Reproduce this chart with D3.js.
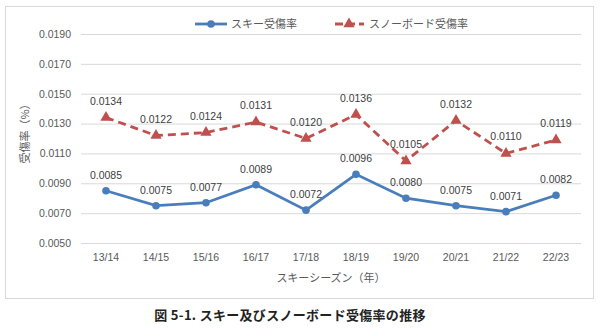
<!DOCTYPE html>
<html><head><meta charset="utf-8">
<script src="https://cdn.jsdelivr.net/npm/d3@7"></script>
<style>body{margin:0;background:#fff}svg{display:block;font-family:"Noto Sans CJK JP","Noto Sans",sans-serif}</style>
</head><body><div id="c"></div>
<script>
const seasons = ["13/14","14/15","15/16","16/17","17/18","18/19","19/20","20/21","21/22","22/23"];
const skiRate = [0.0085,0.0075,0.0077,0.0089,0.0072,0.0096,0.0080,0.0075,0.0071,0.0082];
const snowboardRate = [0.0134,0.0122,0.0124,0.0131,0.0120,0.0136,0.0105,0.0132,0.0110,0.0119];
const yTicks = [0.0050,0.0070,0.0090,0.0110,0.0130,0.0150,0.0170,0.0190];
const seriesNames = ["スキー受傷率","スノーボード受傷率"];

const W=600,H=329;
const svg=d3.select("#c").append("svg").attr("width",W).attr("height",H);
svg.append("rect").attr("x",5.5).attr("y",6.5).attr("width",588).attr("height",292).attr("fill","#fff").attr("stroke","#d9d9d9");

const x=d3.scaleBand().domain(seasons).range([81,581]);
const y=d3.scaleLinear().domain([0.005,0.019]).range([243,34]);

const gy=svg.append("g").attr("transform","translate(81,0)")
  .call(d3.axisLeft(y).tickValues(yTicks).tickSize(-500).tickFormat(d3.format(".4f")));
gy.select(".domain").remove();
gy.selectAll(".tick line").attr("stroke","#d9d9d9");
gy.selectAll(".tick text").attr("fill","#595959").attr("font-size",10.5).attr("x",-10).attr("font-family","Liberation Sans, Arial, sans-serif");

const gx=svg.append("g").attr("transform","translate(0,243)")
  .call(d3.axisBottom(x).tickSize(0));
gx.select(".domain").remove();
gx.selectAll(".tick text").attr("fill","#595959").attr("font-size",10.5).attr("dy","0.71em").attr("y",11).attr("font-family","Liberation Sans, Arial, sans-serif");

const cx=d=>x(d)+x.bandwidth()/2;
const line=d3.line().x((d,i)=>cx(seasons[i])).y(d=>y(d));

// snowboard
svg.append("path").datum(snowboardRate).attr("d",line).attr("fill","none")
  .attr("stroke","#C0504D").attr("stroke-width",2.8).attr("stroke-dasharray","8,5");
const tri=d3.symbol().type(d3.symbolTriangle).size(55);
svg.selectAll(".tri").data(snowboardRate).join("path").attr("d",tri)
  .attr("transform",(d,i)=>`translate(${cx(seasons[i])},${y(d)})`).attr("fill","#C0504D");
svg.selectAll(".lsb").data(snowboardRate).join("text")
  .attr("x",(d,i)=>cx(seasons[i])).attr("y",d=>y(d)-13).attr("text-anchor","middle")
  .attr("font-size",10.5).attr("fill","#404040").attr("font-family","Liberation Sans, Arial, sans-serif")
  .text(d=>d3.format(".4f")(d));

// ski
svg.append("path").datum(skiRate).attr("d",line).attr("fill","none")
  .attr("stroke","#4A7EBB").attr("stroke-width",2.8);
svg.selectAll(".cir").data(skiRate).join("circle")
  .attr("cx",(d,i)=>cx(seasons[i])).attr("cy",d=>y(d)).attr("r",3.8).attr("fill","#4A7EBB");
svg.selectAll(".lsk").data(skiRate).join("text")
  .attr("x",(d,i)=>cx(seasons[i])).attr("y",d=>y(d)-12).attr("text-anchor","middle")
  .attr("font-size",10.5).attr("fill","#404040").attr("font-family","Liberation Sans, Arial, sans-serif")
  .text(d=>d3.format(".4f")(d));

// legend
const lg=svg.append("g");
lg.append("line").attr("x1",195).attr("x2",227).attr("y1",24).attr("y2",24).attr("stroke","#4A7EBB").attr("stroke-width",2.8);
lg.append("circle").attr("cx",211).attr("cy",24).attr("r",3.8).attr("fill","#4A7EBB");
lg.append("text").attr("x",231).attr("y",28).attr("font-size",11).attr("fill","#595959").text(seriesNames[0]);
lg.append("line").attr("x1",335).attr("x2",364).attr("y1",24).attr("y2",24).attr("stroke","#C0504D").attr("stroke-width",2.8).attr("stroke-dasharray","8,4");
lg.append("path").attr("d",tri).attr("transform","translate(349,24)").attr("fill","#C0504D");
lg.append("text").attr("x",369).attr("y",28).attr("font-size",11).attr("fill","#595959").text(seriesNames[1]);

// axis titles
svg.append("text").attr("transform","translate(29,131) rotate(-90)").attr("text-anchor","middle")
  .attr("font-size",11).attr("fill","#595959").text("受傷率（%）");
svg.append("text").attr("x",331).attr("y",282).attr("text-anchor","middle")
  .attr("font-size",11).attr("fill","#595959").text("スキーシーズン（年）");

// caption
svg.append("text").attr("x",290).attr("y",320).attr("text-anchor","middle")
  .attr("font-size",13).attr("letter-spacing",0.3).attr("font-weight","bold").attr("fill","#222").text("図 5-1.  スキー及びスノーボード受傷率の推移");
</script></body></html>
